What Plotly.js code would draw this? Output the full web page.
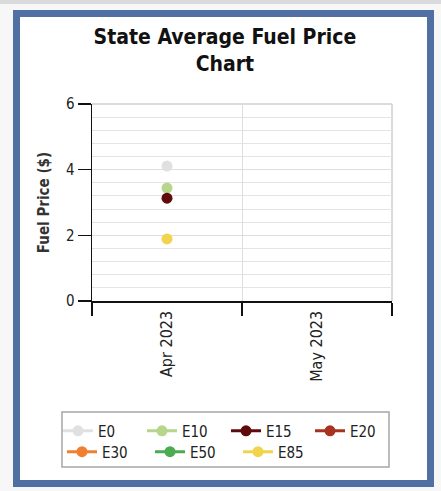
<!DOCTYPE html>
<html>
<head>
<meta charset="utf-8">
<script src="https://cdn.plot.ly/plotly-3.0.1.min.js"></script>
<style>
  html, body { margin: 0; padding: 0; background: #f7f7f7; width: 441px; height: 491px; overflow: hidden; }
  #strip { position: absolute; left: 0; top: 0; width: 441px; height: 4px; background: #dadada; }
  #frame { position: absolute; left: 13px; top: 10px; width: 421px; height: 477px; box-sizing: border-box; border: 7px solid #5070a3; background: #ffffff; }
  #chart { position: absolute; left: 0; top: 0; width: 441px; height: 491px; }
</style>
</head>
<body>
<div id="strip"></div>
<div id="frame"></div>
<div id="chart"></div>
<script>
// ---- data ----
const months = ["Apr 2023", "May 2023"];
const fuelTypes = ["E0", "E10", "E15", "E20", "E30", "E50", "E85"];
const aprPrices = [4.11, 3.44, 3.13, null, null, null, 1.89];
const yTickValues = [0, 2, 4, 6];

// ---- styles ----
const fuelColors = ["#e0e0e0", "#b6d68b", "#600b0b", "#a8321f", "#f0802f", "#4caa52", "#f0d44c"];
const legendRow = ["legend", "legend", "legend", "legend", "legend2", "legend2", "legend2"];

const FONT = "DejaVu Sans Condensed, DejaVu Sans, sans-serif";

const traces = fuelTypes.map((name, i) => ({
  type: "scatter",
  mode: "lines+markers",
  name: name,
  x: [months[0]],
  y: [aprPrices[i]],
  legend: legendRow[i],
  line: { color: fuelColors[i], width: 3 },
  marker: { color: fuelColors[i], size: 11 },
  hoverinfo: "skip"
}));

const layout = {
  width: 441,
  height: 491,
  paper_bgcolor: "rgba(0,0,0,0)",
  plot_bgcolor: "rgba(0,0,0,0)",
  margin: { l: 92, r: 49, t: 104, b: 190 },
  font: { family: FONT, size: 15, color: "#222" },
  title: {
    text: "State Average Fuel Price<br>Chart",
    font: { family: FONT, size: 21, color: "#111", weight: "bold" },
    x: 0.51, xanchor: "center", xref: "container",
    y: 0.91, yanchor: "top", yref: "container"
  },
  xaxis: {
    type: "category",
    categoryorder: "array",
    categoryarray: months,
    tickvals: months,
    range: [-0.5, 1.5],
    tickson: "boundaries",
    ticks: "outside",
    ticklen: 13,
    tickwidth: 1.5,
    tickcolor: "#111",
    showline: true,
    linecolor: "#111",
    linewidth: 1.5,
    showgrid: true,
    gridcolor: "#dedede",
    gridwidth: 1,
    tickangle: -90,
    ticklabelstandoff: 2,
    tickfont: { family: FONT, size: 16, color: "#222" },
    zeroline: false,
    fixedrange: true
  },
  yaxis: {
    range: [0, 6],
    tickvals: yTickValues,
    ticks: "outside",
    ticklen: 13,
    tickwidth: 1.5,
    tickcolor: "#111",
    showline: true,
    linecolor: "#111",
    linewidth: 1.5,
    showgrid: true,
    gridcolor: "#dedede",
    gridwidth: 1,
    minor: { dtick: 0.4, showgrid: true, gridcolor: "#e4e4e4", gridwidth: 1, ticks: "" },
    zeroline: false,
    tickfont: { family: FONT, size: 15, color: "#222" },
    title: { text: "Fuel Price ($)", font: { family: FONT, size: 15, color: "#333", weight: "bold" }, standoff: 12 },
    fixedrange: true
  },
  showlegend: true,
  legend: {
    orientation: "h",
    x: -0.1133, xanchor: "left",
    y: -0.66, yanchor: "middle",
    bgcolor: "rgba(0,0,0,0)",
    borderwidth: 0,
    entrywidth: 39,
    entrywidthmode: "pixels",
    font: { family: FONT, size: 15, color: "#222" }
  },
  legend2: {
    orientation: "h",
    x: -0.1, xanchor: "left",
    y: -0.766, yanchor: "middle",
    bgcolor: "rgba(0,0,0,0)",
    borderwidth: 0,
    entrywidth: 43,
    entrywidthmode: "pixels",
    font: { family: FONT, size: 15, color: "#222" }
  },
  shapes: [
    {
      type: "rect", xref: "paper", yref: "paper",
      x0: -0.1, x1: 0.99, y0: -0.8426, y1: -0.5635,
      line: { color: "#a6a6a6", width: 1.5 },
      fillcolor: "rgba(0,0,0,0)",
      layer: "below"
    },
    {
      type: "line", xref: "paper", yref: "paper",
      x0: 0, x1: 1, y0: 1, y1: 1,
      line: { color: "#cfcfcf", width: 1.5 },
      layer: "below"
    },
    {
      type: "line", xref: "paper", yref: "paper",
      x0: 1, x1: 1, y0: 0, y1: 1,
      line: { color: "#cfcfcf", width: 1.5 },
      layer: "below"
    }
  ]
};

Plotly.newPlot("chart", traces, layout, { displayModeBar: false, staticPlot: true });
</script>
</body>
</html>
